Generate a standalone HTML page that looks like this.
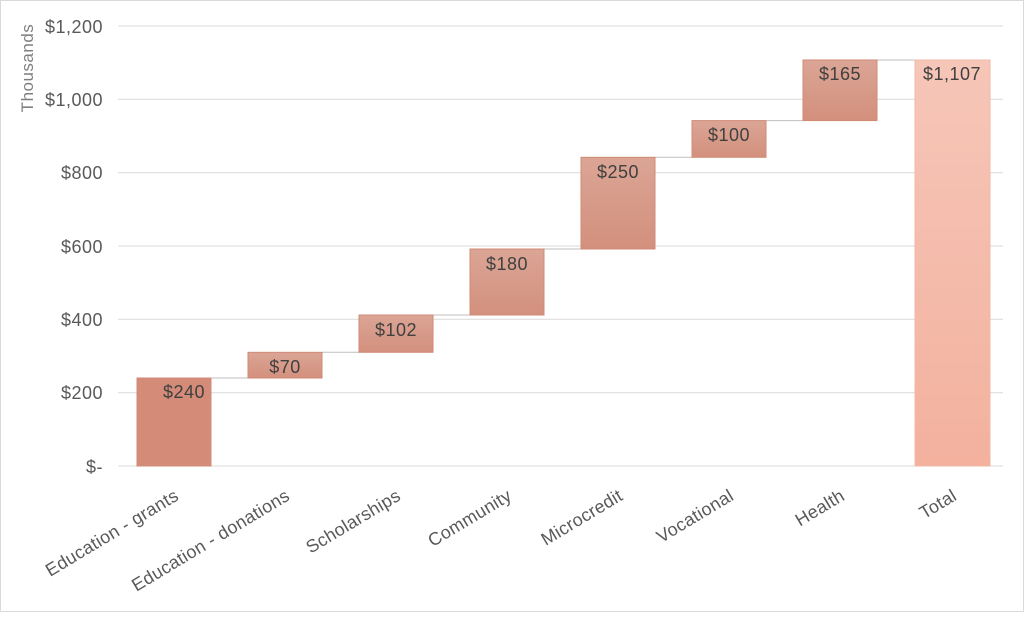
<!DOCTYPE html><html><head><style>body{margin:0;background:#fff}</style></head><body>
<svg width="1024" height="612" xmlns="http://www.w3.org/2000/svg" font-family="Liberation Sans, sans-serif">
<defs>
<linearGradient id="g1" x1="0" y1="0" x2="0" y2="1"><stop offset="0" stop-color="#dba595"/><stop offset="1" stop-color="#d3907d"/></linearGradient>
<linearGradient id="g2" x1="0" y1="0" x2="0" y2="1"><stop offset="0" stop-color="#f6c6b8"/><stop offset="1" stop-color="#f3b19e"/></linearGradient>
</defs>
<rect x="0.5" y="0.5" width="1023" height="611" fill="#fff" stroke="#d9d9d9"/>
<g stroke="#d9d9d9" stroke-width="1">
<line x1="118" x2="1003" y1="26" y2="26"/><line x1="118" x2="1003" y1="99.3" y2="99.3"/><line x1="118" x2="1003" y1="172.7" y2="172.7"/><line x1="118" x2="1003" y1="246" y2="246"/><line x1="118" x2="1003" y1="319.3" y2="319.3"/><line x1="118" x2="1003" y1="392.7" y2="392.7"/><line x1="118" x2="1003" y1="466" y2="466"/>
</g>
<g fill="#595959" font-size="18" text-anchor="end" letter-spacing="0.5">
<text x="103" y="33">$1,200</text><text x="103" y="106">$1,000</text><text x="103" y="179">$800</text><text x="103" y="253">$600</text><text x="103" y="326">$400</text><text x="103" y="399">$200</text><text x="103" y="473">$-</text>
</g>
<text transform="translate(33,68) rotate(-90)" fill="#7f7f7f" font-size="17" text-anchor="middle" letter-spacing="0.5">Thousands</text>
<g stroke="#bfbfbf" stroke-width="1">
<line x1="211" x2="248" y1="378" y2="378"/><line x1="322" x2="359" y1="352.3" y2="352.3"/><line x1="433" x2="470" y1="315" y2="315"/><line x1="544" x2="581" y1="249" y2="249"/><line x1="655" x2="692" y1="157.3" y2="157.3"/><line x1="766" x2="803" y1="120.6" y2="120.6"/><line x1="877" x2="915" y1="60" y2="60"/>
</g>
<g stroke="#d08a76" stroke-width="1">
<rect x="137" y="378" width="74" height="88" fill="#d48c79"/>
<rect x="248" y="352.3" width="74" height="25.7" fill="url(#g1)"/>
<rect x="359" y="315" width="74" height="37.3" fill="url(#g1)"/>
<rect x="470" y="249" width="74" height="66" fill="url(#g1)"/>
<rect x="581" y="157.3" width="74" height="91.7" fill="url(#g1)"/>
<rect x="692" y="120.6" width="74" height="36.7" fill="url(#g1)"/>
<rect x="803" y="60" width="74" height="60.6" fill="url(#g1)"/>
<rect x="915" y="60" width="75" height="406" fill="url(#g2)" stroke="#f2b8a6"/>
</g>
<g fill="#404040" font-size="18" text-anchor="middle" letter-spacing="0.5">
<text x="184" y="398">$240</text><text x="285" y="373">$70</text><text x="396" y="336">$102</text><text x="507" y="270">$180</text><text x="618" y="178">$250</text><text x="729" y="141">$100</text><text x="840" y="80">$165</text><text x="952" y="80">$1,107</text>
</g>
<g fill="#595959" font-size="18" text-anchor="end" letter-spacing="0.3">
<text transform="translate(180,499) rotate(-31)">Education - grants</text>
<text transform="translate(291,499) rotate(-31)">Education - donations</text>
<text transform="translate(402,499) rotate(-31)">Scholarships</text>
<text transform="translate(513,499) rotate(-31)">Community</text>
<text transform="translate(624,499) rotate(-31)">Microcredit</text>
<text transform="translate(735,499) rotate(-31)">Vocational</text>
<text transform="translate(846,499) rotate(-31)">Health</text>
<text transform="translate(958,499) rotate(-31)">Total</text>
</g>
</svg></body></html>
